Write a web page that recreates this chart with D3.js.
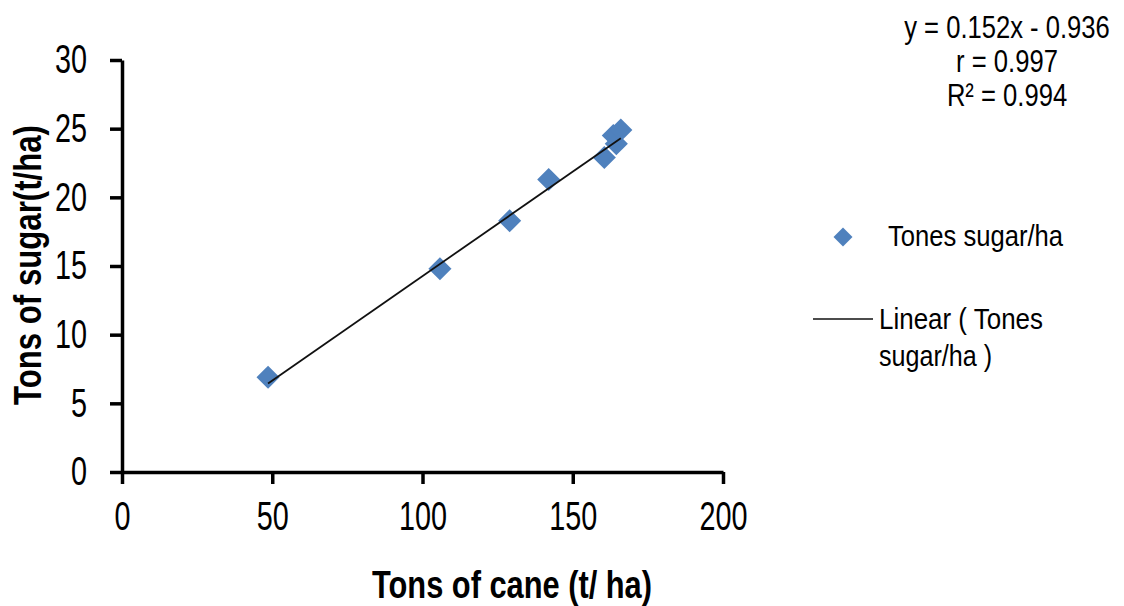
<!DOCTYPE html>
<html>
<head>
<meta charset="utf-8">
<script src="https://cdn.jsdelivr.net/npm/d3@7"></script>
<style>
  body { margin: 0; background: #fff; }
  svg { display: block; font-family: "Liberation Sans", Arial, sans-serif; }
</style>
</head>
<body>
<div id="chart"></div>
<script>
// values
const caneTons = [48.6, 105.8, 129, 142, 160.5, 163.5, 164.5, 166];
const sugarTons = [6.9, 14.8, 18.3, 21.3, 22.9, 24.5, 23.9, 24.9];
const xTicks = [0, 50, 100, 150, 200];
const yTicks = [0, 5, 10, 15, 20, 25, 30];
const trendSlope = 0.152;
const trendIntercept = -0.936;
const statLines = ["y = 0.152x - 0.936", "r = 0.997", "R\u00b2 = 0.994"];

const width = 1124;
const height = 606;
const blue = "#4f81bd";

const points = caneTons.map((c, i) => ({ cane: c, sugar: sugarTons[i] }));

// the original uses a narrow face, so squeeze the glyphs horizontally
function squeeze(sel, k) {
  sel.each(function () {
    const w = this.getComputedTextLength();
    d3.select(this).attr("textLength", w * k).attr("lengthAdjust", "spacingAndGlyphs");
  });
}

function fitWidth(sel, w) {
  sel.attr("textLength", w).attr("lengthAdjust", "spacingAndGlyphs");
}

const svg = d3
  .select("#chart")
  .append("svg")
  .attr("width", width)
  .attr("height", height);

const xScale = d3.scaleLinear().domain([0, 200]).range([122, 723]);
const yScale = d3.scaleLinear().domain([0, 30]).range([472, 60]);

// x axis
const xAxis = svg
  .append("g")
  .attr("transform", `translate(0, ${yScale(0)})`)
  .call(d3.axisBottom(xScale).tickValues(xTicks).tickSize(12).tickSizeOuter(0).tickPadding(18));
xAxis.attr("font-family", null).attr("font-size", null);
xAxis.select(".domain").attr("stroke", "#000").attr("stroke-width", 3.5);
xAxis.selectAll(".tick line").attr("stroke", "#000").attr("stroke-width", 3.5);
xAxis.selectAll("text").attr("font-size", 40).attr("fill", "#000").call(squeeze, 0.72);

// y axis
const yAxis = svg
  .append("g")
  .attr("transform", `translate(${xScale(0)}, 0)`)
  .call(d3.axisLeft(yScale).tickValues(yTicks).tickSize(12).tickSizeOuter(0).tickPadding(23));
yAxis.attr("font-family", null).attr("font-size", null);
yAxis.select(".domain").attr("stroke", "#000").attr("stroke-width", 3.5);
yAxis.selectAll(".tick line").attr("stroke", "#000").attr("stroke-width", 3.5);
yAxis.selectAll("text").attr("font-size", 40).attr("fill", "#000").call(squeeze, 0.72);

// axis titles
svg
  .append("text")
  .attr("x", 512)
  .attr("y", 598)
  .attr("text-anchor", "middle")
  .attr("font-size", 38)
  .attr("font-weight", "bold")
  .text("Tons of cane (t/ ha)")
  .call(fitWidth, 280);

svg
  .append("text")
  .attr("transform", `translate(41, 265) rotate(-90)`)
  .attr("text-anchor", "middle")
  .attr("font-size", 38)
  .attr("font-weight", "bold")
  .text("Tons of sugar(t/ha)")
  .call(fitWidth, 280);

// markers
const diamond = d3.symbol().type(d3.symbolDiamond2).size(340);

svg
  .append("g")
  .attr("class", "dots")
  .selectAll("path")
  .data(points)
  .join("path")
  .attr("d", diamond)
  .attr("transform", (d) => `translate(${xScale(d.cane)}, ${yScale(d.sugar)})`)
  .attr("fill", blue);

// trend line
const [xMin, xMax] = d3.extent(caneTons);
const trend = [xMin, xMax].map((x) => ({ cane: x, sugar: trendSlope * x + trendIntercept }));

svg
  .append("path")
  .datum(trend)
  .attr("d", d3.line().x((d) => xScale(d.cane)).y((d) => yScale(d.sugar)))
  .attr("fill", "none")
  .attr("stroke", "#111")
  .attr("stroke-width", 1.8);

// regression stats
svg
  .append("g")
  .selectAll("text")
  .data(statLines)
  .join("text")
  .attr("x", 1007)
  .attr("y", (d, i) => 38 + i * 34)
  .attr("text-anchor", "middle")
  .attr("font-size", 32)
  .text((d) => d)
  .call(squeeze, 0.8);

// legend
const legend = svg.append("g");

legend
  .append("path")
  .attr("d", d3.symbol().type(d3.symbolDiamond2).size(230))
  .attr("transform", "translate(843, 237)")
  .attr("fill", blue);

legend
  .append("text")
  .attr("x", 888)
  .attr("y", 246)
  .attr("font-size", 29)
  .text("Tones sugar/ha")
  .call(fitWidth, 175);

legend
  .append("line")
  .attr("x1", 813)
  .attr("x2", 873)
  .attr("y1", 319)
  .attr("y2", 319)
  .attr("stroke", "#111")
  .attr("stroke-width", 1.5);

legend
  .append("text")
  .attr("x", 879)
  .attr("y", 329)
  .attr("font-size", 29)
  .text("Linear ( Tones")
  .call(fitWidth, 164);

legend
  .append("text")
  .attr("x", 879)
  .attr("y", 366)
  .attr("font-size", 29)
  .text("sugar/ha )")
  .call(fitWidth, 113);
</script>
</body>
</html>
